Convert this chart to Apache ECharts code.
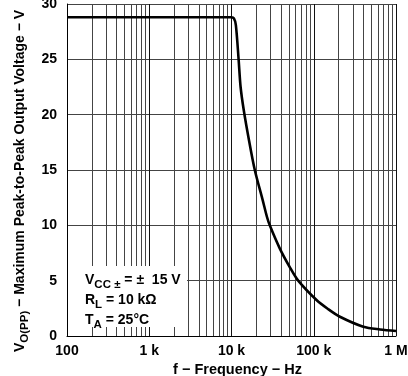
<!DOCTYPE html>
<html>
<head>
<meta charset="utf-8">
<script src="https://cdn.jsdelivr.net/npm/echarts@6/dist/echarts.min.js"></script>
<style>html,body{margin:0;padding:0;background:#fff}#c{width:408px;height:376px}</style>
</head>
<body>
<div id="c"></div>
<script>
// Data
const freqHz = [100, 1000, 10000, 10700, 11300, 12200, 12900, 14100, 16400, 19200, 23900, 26900, 29200, 38700, 51300, 64700, 108000, 149000, 208000, 400000, 640000, 1000000];
const voltsPP = [28.8, 28.8, 28.8, 28.7, 28.1, 25.0, 22.5, 20.4, 17.6, 15.0, 12.3, 10.8, 10.0, 7.9, 6.2, 5.0, 3.25, 2.44, 1.74, 0.84, 0.59, 0.45];
const xTickValues = [100, 1000, 10000, 100000, 1000000];
const xTickLabels = ['100', '1 k', '10 k', '100 k', '1 M'];
const yTicks = [0, 5, 10, 15, 20, 25, 30];

const FONT = 'Liberation Sans, Arial, sans-serif';
const chart = echarts.init(document.getElementById('c'), null, {renderer: 'canvas'});
const gridColor = '#444';

chart.setOption({
  animation: false,
  backgroundColor: '#fff',
  grid: {left: 67, right: 12, top: 4, bottom: 40, outerBoundsMode: 'none', containLabel: false},
  xAxis: {
    type: 'log', logBase: 10, min: 100, max: 1000000,
    axisLine: {show: true, lineStyle: {color: '#000', width: 1}},
    axisTick: {show: false},
    splitLine: {show: true, lineStyle: {color: '#111', width: 1}},
    minorTick: {show: false, splitNumber: 9},
    minorSplitLine: {show: true, lineStyle: {color: gridColor, width: 1}},
    axisLabel: {
      margin: 8, color: '#000', fontFamily: FONT, fontWeight: 'bold', fontSize: 14,
      hideOverlap: false,
      formatter: v => { const i = xTickValues.findIndex(t => Math.abs(t - v) / t < 1e-6); return i >= 0 ? xTickLabels[i] : ''; }
    },
    name: 'f \u2212 Frequency \u2212 Hz', nameLocation: 'middle', nameGap: 23,
    nameTextStyle: {color: '#000', fontFamily: FONT, fontWeight: 'bold', fontSize: 14.5, padding: [0, 0, 0, 12]}
  },
  yAxis: {
    type: 'value', min: yTicks[0], max: yTicks[yTicks.length - 1], interval: 5,
    axisLine: {show: true, lineStyle: {color: '#000', width: 1}},
    axisTick: {show: false},
    splitLine: {show: true, lineStyle: {color: gridColor, width: 1}},
    axisLabel: {margin: 10, color: '#000', fontFamily: FONT, fontWeight: 'bold', fontSize: 14},
    name: '{m|V}{s|O(PP)}{m| \u2212 Maximum Peak-to-Peak Output Voltage \u2212 V}',
    nameLocation: 'middle', nameGap: 35, nameRotate: 90,
    nameTextStyle: {
      color: '#000', fontFamily: FONT, fontWeight: 'bold', fontSize: 14,
      padding: [0, 22, 0, 0],
      rich: {
        m: {fontFamily: FONT, fontWeight: 'bold', fontSize: 14, color: '#000', lineHeight: 18, verticalAlign: 'top'},
        s: {fontFamily: FONT, fontWeight: 'bold', fontSize: 11.5, color: '#000', lineHeight: 18, verticalAlign: 'top', padding: [5, 0, 0, 0]}
      }
    }
  },
  series: [{
    type: 'line',
    data: freqHz.map((f, i) => [f, voltsPP[i]]),
    smooth: 0.3,
    showSymbol: false, symbol: 'none',
    lineStyle: {color: '#000', width: 2.6},
    z: 5
  }],
  graphic: [
    {type: 'rect', left: 68, top: 266, shape: {width: 119, height: 61}, style: {fill: '#fff'}, z: 10},
    {type: 'text', left: 85, top: 273, z: 11, style: {
      text: '{m|V}{s|CC \u00b1}{m| = \u00b1  15 V}\n{m|R}{s|L}{m| = 10 k\u03a9}\n{m|T}{s|A}{m| = 25\u00b0C}',
      fontFamily: FONT, fontWeight: 'bold', fontSize: 14, fill: '#000', lineHeight: 20,
      rich: {
        m: {fontFamily: FONT, fontWeight: 'bold', fontSize: 14, fill: '#000', lineHeight: 20, verticalAlign: 'top'},
        s: {fontFamily: FONT, fontWeight: 'bold', fontSize: 11.5, fill: '#000', lineHeight: 20, verticalAlign: 'top', padding: [6, 0, 0, 0]}
      }
    }}
  ]
});
</script>
</body>
</html>
